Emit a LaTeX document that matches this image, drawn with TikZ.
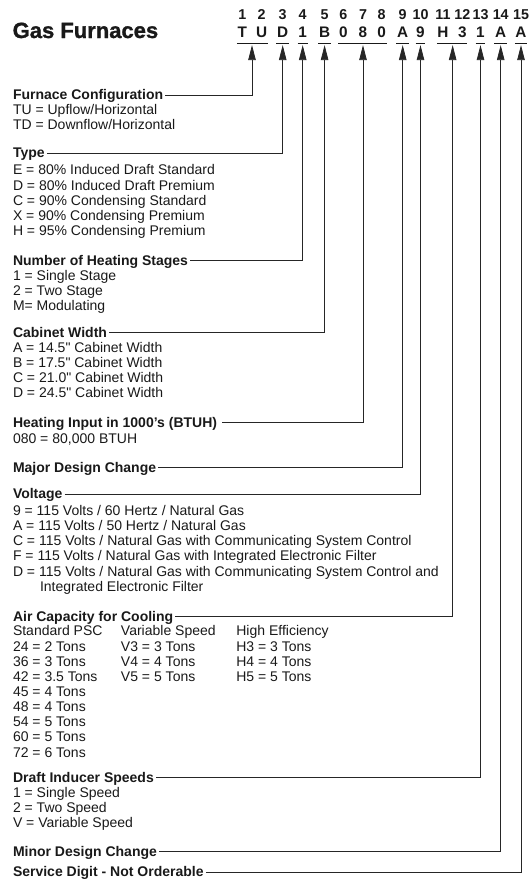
\documentclass[tikz,border=0pt]{standalone}
\usepackage{fontspec}
\setmainfont{Liberation Sans}[Ligatures=TeXOff]
\newfontfamily\heavyfont[FakeBold=1.2]{Liberation Sans}
\usetikzlibrary{arrows.meta,calc}
\begin{document}
\begin{tikzpicture}[x=1pt,y=-1pt,
  txt/.style={anchor=base west,inner sep=0pt,text=black!90,font=\fontsize{14}{15.15}\selectfont},
  head/.style={anchor=base west,inner sep=0pt,text=black!90,font=\fontsize{14}{15.15}\selectfont\bfseries},
  num/.style={anchor=base,inner sep=0pt,text=black!90,font=\fontsize{14.3}{15}\selectfont\bfseries},
  let/.style={anchor=base,inner sep=0pt,text=black!90,font=\fontsize{15.3}{16}\selectfont\bfseries},
  uline/.style={line width=0.9pt,black!90},
  conn/.style={line width=0.75pt,black!85,-{Triangle[length=15pt,width=7.5pt]}},
]
\useasboundingbox (0,0) rectangle (529,884);

% title
\node[anchor=base west,inner sep=0pt,text=black!90,font=\fontsize{22}{24}\selectfont\heavyfont\bfseries] (title) at (12.5,38) {Gas Furnaces};

% digit positions and letters
\foreach \k/\x/\c in {1/242.3/T,2/261.7/U,3/282.7/D,4/302.7/1,5/324.6/B,6/343.3/0,7/363.0/8,8/381.7/0,9/402.7/A,10/420.5/9,11/443.0/H,12/462.3/3,13/480.5/1,14/500.7/A,15/521.0/A}{
  \node[num] (d\k) at (\x,19.2) {\k};
  \node[let] (l\k) at (\x,37.8) {\c};
}
\foreach \a/\b in {1/2,3/3,4/4,5/5,6/8,9/9,10/10,11/12,13/13,14/14,15/15}
  \draw[uline] ($(l\a.base west)+(-0.5,5.8)$) -- ($(l\b.base east)+(0.5,5.8)$);

% arrow tips
\coordinate (tFC) at ($(l1.base)!0.5!(l2.base)+(0,7.3)$);
\coordinate (tT)  at ($(l3.base)+(0,7.3)$);
\coordinate (tN)  at ($(l4.base)+(0,7.3)$);
\coordinate (tC)  at ($(l5.base)+(0,7.3)$);
\coordinate (tH)  at ($(l7.base)+(0,7.3)$);
\coordinate (tM)  at ($(l9.base)+(0,7.3)$);
\coordinate (tV)  at ($(l10.base)+(0,7.3)$);
\coordinate (tA)  at ($(l11.base)!0.5!(l12.base)+(0,7.3)$);
\coordinate (tD)  at ($(l13.base)+(0,7.3)$);
\coordinate (tm)  at ($(l14.base)+(0,7.3)$);
\coordinate (tS)  at ($(l15.base)+(0,7.3)$);

% headings
\node[head] (hFC) at (12.8,99.6) {Furnace Configuration};
\node[head] (hT)  at (12.8,157.8) {Type};
\node[head] (hN)  at (12.8,265.3) {Number of Heating Stages};
\node[head] (hC)  at (12.8,337.1) {Cabinet Width};
\node[head] (hH)  at (12.8,427.2) {Heating Input in 1000’s (BTUH)};
\node[head] (hM)  at (12.8,472.0) {Major Design Change};
\node[head] (hV)  at (12.8,498.6) {Voltage};
\node[head] (hA)  at (12.8,621.0) {Air Capacity for Cooling};
\node[head] (hD)  at (12.8,782.2) {Draft Inducer Speeds};
\node[head] (hm)  at (12.8,856.1) {Minor Design Change};
\node[head] (hS)  at (12.8,876.4) {Service Digit - Not Orderable};

% bodies
\node[txt] (bFC) at (12.8,114.4) {\begin{tabular}[t]{@{}l@{}}TU = Upflow/Horizontal\\TD = Downflow/Horizontal\end{tabular}};
\node[txt] (bT) at (12.8,174.9) {\begin{tabular}[t]{@{}l@{}}E = 80\% Induced Draft Standard\\D = 80\% Induced Draft Premium\\C = 90\% Condensing Standard\\X = 90\% Condensing Premium\\H = 95\% Condensing Premium\end{tabular}};
\node[txt] (bN) at (12.8,280.5) {\begin{tabular}[t]{@{}l@{}}1 = Single Stage\\2 = Two Stage\\M= Modulating\end{tabular}};
\node[txt] (bC) at (12.8,352.3) {\begin{tabular}[t]{@{}l@{}}A = 14.5" Cabinet Width\\B = 17.5" Cabinet Width\\C = 21.0" Cabinet Width\\D = 24.5" Cabinet Width\end{tabular}};
\node[txt] (bH) at (12.8,443.4) {080 = 80,000 BTUH};
\node[txt] (bV) at (12.8,515.4) {\begin{tabular}[t]{@{}l@{}}9 = 115 Volts / 60 Hertz / Natural Gas\\A = 115 Volts / 50 Hertz / Natural Gas\\C = 115 Volts / Natural Gas with Communicating System Control\\F = 115 Volts / Natural Gas with Integrated Electronic Filter\\D = 115 Volts / Natural Gas with Communicating System Control and\\\hspace*{27pt}Integrated Electronic Filter\end{tabular}};
\node[txt] (bA) at (12.8,635.9) {\begin{tabular}[t]{@{}p{108pt}@{}p{115.4pt}@{}l@{}}Standard PSC & Variable Speed & High Efficiency\\24 = 2 Tons & V3 = 3 Tons & H3 = 3 Tons\\36 = 3 Tons & V4 = 4 Tons & H4 = 4 Tons\\42 = 3.5 Tons & V5 = 5 Tons & H5 = 5 Tons\\45 = 4 Tons & & \\48 = 4 Tons & & \\54 = 5 Tons & & \\60 = 5 Tons & & \\72 = 6 Tons & & \end{tabular}};
\node[txt] (bD) at (12.8,797.4) {\begin{tabular}[t]{@{}l@{}}1 = Single Speed\\2 = Two Speed\\V = Variable Speed\end{tabular}};

% connectors
\draw[conn] ($(hFC.base east)+(2,-4.5)$) -| (tFC);
\draw[conn] ($(hT.base east)+(2,-4.5)$) -| (tT);
\draw[conn] ($(hN.base east)+(2,-4.5)$) -| (tN);
\draw[conn] ($(hC.base east)+(2,-4.5)$) -| (tC);
\draw[conn] ($(hH.base east)+(5,-4.5)$) -| (tH);
\draw[conn] ($(hM.base east)+(2,-4.5)$) -| (tM);
\draw[conn] ($(hV.base east)+(2,-4.5)$) -| (tV);
\draw[conn] ($(hA.base east)+(2,-4.5)$) -| (tA);
\draw[conn] ($(hD.base east)+(2,-4.5)$) -| (tD);
\draw[conn] ($(hm.base east)+(2,-4.5)$) -| (tm);
\draw[conn] ($(hS.base east)+(2,-4.5)$) -| (tS);
\end{tikzpicture}
\end{document}
